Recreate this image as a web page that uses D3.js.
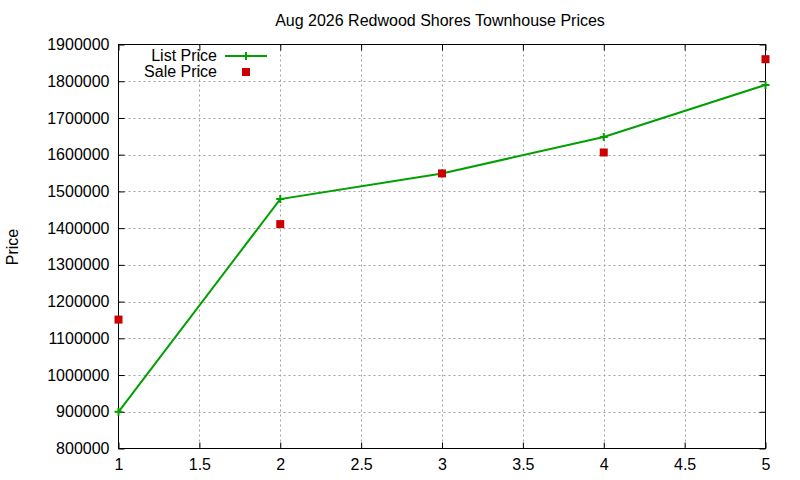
<!DOCTYPE html>
<html><head><meta charset="utf-8">
<script src="https://cdn.jsdelivr.net/npm/d3@7"></script>
<style>body{margin:0;background:#fff}svg{display:block}text{font-family:"Liberation Sans",Arial,sans-serif}</style>
</head><body><svg id="c" width="800" height="480"></svg>
<script>
const months = [1, 2, 3, 4, 5];
const listPrice = [900000, 1479000, 1549000, 1648000, 1790000];
const salePrice = [1151000, 1411000, 1549000, 1606000, 1860000];
const xTicks = [1, 1.5, 2, 2.5, 3, 3.5, 4, 4.5, 5];
const yTicks = [800000, 900000, 1000000, 1100000, 1200000, 1300000, 1400000, 1500000, 1600000, 1700000, 1800000, 1900000];
const title = "Aug 2026 Redwood Shores Townhouse Prices";
const seriesNames = ["List Price", "Sale Price"];

const svg = d3.select("#c");
const L = 118.5, R = 765.5, T = 44.5, B = 448.5;
const x = d3.scaleLinear().domain([1, 5]).range([L, R]);
const y = d3.scaleLinear().domain([800000, 1900000]).range([B, T]);
const green = "#00a000", red = "#cc0000", fs = 16;

// grid
const g = svg.append("g");
g.selectAll(".gx").data(xTicks.slice(1, -1)).enter().append("line")
  .attr("x1", d => Math.round(x(d)) + .5).attr("x2", d => Math.round(x(d)) + .5)
  .attr("y1", T).attr("y2", B).attr("stroke", "#a0a0a0").attr("stroke-dasharray", "2,3");
g.selectAll(".gy").data(yTicks.slice(1, -1)).enter().append("line")
  .attr("y1", d => Math.round(y(d)) + .5).attr("y2", d => Math.round(y(d)) + .5)
  .attr("x1", L).attr("x2", R).attr("stroke", "#a0a0a0").attr("stroke-dasharray", "2,3");

// axes
const ax = d3.axisBottom(x).tickValues(xTicks).tickSize(-6).tickPadding(10).tickFormat(d3.format(""));
const axT = d3.axisTop(x).tickValues(xTicks).tickSize(-6).tickFormat("");
const ay = d3.axisLeft(y).tickValues(yTicks).tickSize(-6).tickPadding(9).tickFormat(d3.format("d"));
const ayR = d3.axisRight(y).tickValues(yTicks).tickSize(-6).tickFormat("");
function style(sel) {
  sel.selectAll("path").remove();
  sel.selectAll("line").attr("stroke", "#000");
  sel.selectAll("text").attr("fill", "#000").style("font-size", fs + "px").style("font-family", '"Liberation Sans",Arial,sans-serif');
}
svg.append("g").attr("transform", `translate(0,${B})`).call(ax).call(style);
svg.append("g").attr("transform", `translate(0,${T})`).call(axT).call(style);
svg.append("g").attr("transform", `translate(${L},0)`).call(ay).call(style);
svg.append("g").attr("transform", `translate(${R},0)`).call(ayR).call(style);
svg.append("rect").attr("x", L).attr("y", T).attr("width", R - L).attr("height", B - T)
  .attr("fill", "none").attr("stroke", "#000");

// list price line
const line = d3.line().x((d, i) => x(months[i])).y(d => y(d));
svg.append("path").datum(listPrice).attr("d", line).attr("fill", "none")
  .attr("stroke", green).attr("stroke-width", 2);
function plus(sel, cx, cy) {
  sel.append("path").attr("d", `M${cx - 4},${cy}H${cx + 4}M${cx},${cy - 4}V${cy + 4}`)
    .attr("stroke", green).attr("stroke-width", 2);
}
listPrice.forEach((v, i) => plus(svg, x(months[i]), y(v)));
svg.selectAll(".sq").data(salePrice).enter().append("rect")
  .attr("x", (d, i) => x(months[i]) - 4).attr("y", d => y(d) - 4)
  .attr("width", 8).attr("height", 8).attr("fill", red);

// legend
svg.append("text").attr("x", 217).attr("y", 61).attr("text-anchor", "end").style("font-size", fs + "px").text(seriesNames[0]);
svg.append("text").attr("x", 217).attr("y", 77).attr("text-anchor", "end").style("font-size", fs + "px").text(seriesNames[1]);
svg.append("line").attr("x1", 225).attr("x2", 267).attr("y1", 56).attr("y2", 56).attr("stroke", green).attr("stroke-width", 2);
plus(svg, 246, 56);
svg.append("rect").attr("x", 242).attr("y", 68).attr("width", 8).attr("height", 8).attr("fill", red);

// title and label
svg.append("text").attr("x", 440).attr("y", 26).attr("text-anchor", "middle").style("font-size", fs + "px").text(title);
svg.append("text").attr("transform", "translate(18,247) rotate(-90)").attr("text-anchor", "middle").style("font-size", fs + "px").text("Price");
</script></body></html>
